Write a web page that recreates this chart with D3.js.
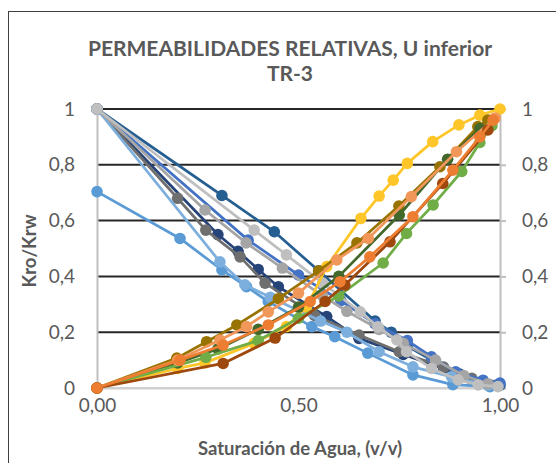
<!DOCTYPE html>
<html>
<head>
<meta charset="utf-8">
<script src="https://cdn.jsdelivr.net/npm/d3@7"></script>
<style>
  html, body { margin: 0; padding: 0; background: #fff; }
  svg { display: block; font-family: "Lato", "Open Sans", sans-serif; }
</style>
</head>
<body>
<svg id="chart" width="556" height="463"></svg>
<script>
// Tick labels
const xTicks = [0, 0.5, 1];
const yTicks = [0, 0.2, 0.4, 0.6, 0.8, 1];

// Kro curves (water saturation / kro)
const kroA_sw = [0, 0.31, 0.44, 0.55, 0.69, 0.73, 0.77, 0.83, 0.90, 0.95, 1.0];
const kroA    = [1, 0.69, 0.56, 0.42, 0.24, 0.20, 0.15, 0.10, 0.05, 0.02, 0.01];
const kroB_sw = [0, 0.30, 0.35, 0.40, 0.45, 0.57, 0.65, 0.76, 0.86, 0.93, 0.99];
const kroB    = [1, 0.55, 0.49, 0.425, 0.363, 0.256, 0.178, 0.12, 0.07, 0.03, 0.01];
const kroC_sw = [0, 0.20, 0.27, 0.355, 0.417, 0.54, 0.65, 0.75, 0.86, 0.93, 0.98];
const kroC    = [1, 0.68, 0.566, 0.47, 0.376, 0.26, 0.19, 0.13, 0.075, 0.035, 0.01];
const kroD_sw = [0, 0.375, 0.50, 0.605, 0.69, 0.77, 0.83, 0.89, 0.958, 1.0];
const kroD    = [1, 0.53, 0.405, 0.313, 0.23, 0.17, 0.112, 0.058, 0.028, 0.018];
const kroE_sw = [0, 0.206, 0.31, 0.371, 0.425, 0.533, 0.59, 0.672, 0.784, 0.883, 0.975];
const kroE    = [0.704, 0.536, 0.423, 0.363, 0.31, 0.22, 0.184, 0.125, 0.047, 0.012, 0.005];
const kroF_sw = [0, 0.305, 0.367, 0.43, 0.555, 0.62, 0.70, 0.784, 0.88, 0.97];
const kroF    = [1, 0.452, 0.37, 0.325, 0.24, 0.20, 0.13, 0.076, 0.04, 0.01];
const kroG_sw = [0, 0.268, 0.37, 0.46, 0.56, 0.62, 0.70, 0.76, 0.84, 0.91, 0.97];
const kroG    = [1, 0.638, 0.52, 0.43, 0.33, 0.275, 0.21, 0.16, 0.10, 0.045, 0.015];
const kroH_sw = [0, 0.39, 0.47, 0.56, 0.653, 0.697, 0.744, 0.768, 0.83, 0.896, 0.946, 0.995];
const kroH    = [1, 0.566, 0.477, 0.376, 0.273, 0.219, 0.172, 0.13, 0.07, 0.029, 0.011, 0.005];

// Krw curves
const krwA_sw = [0, 0.2, 0.268, 0.39, 0.47, 0.52, 0.57, 0.655, 0.70, 0.735, 0.77, 0.833, 0.898, 0.95, 1.0];
const krwA    = [0, 0.07, 0.09, 0.16, 0.22, 0.29, 0.435, 0.608, 0.688, 0.745, 0.805, 0.883, 0.943, 0.978, 1.0];
const krwB_sw = [0, 0.198, 0.272, 0.347, 0.45, 0.55, 0.645, 0.749, 0.851, 0.945, 0.97];
const krwB    = [0, 0.107, 0.166, 0.226, 0.32, 0.42, 0.52, 0.652, 0.793, 0.937, 0.96];
const krwC_sw = [0, 0.2, 0.3, 0.4, 0.5, 0.6, 0.75, 0.87, 0.95];
const krwC    = [0, 0.09, 0.14, 0.21, 0.29, 0.40, 0.62, 0.82, 0.93];
const krwD_sw = [0, 0.27, 0.4, 0.5, 0.6, 0.71, 0.768, 0.834, 0.905, 0.95, 0.98];
const krwD    = [0, 0.11, 0.17, 0.25, 0.33, 0.448, 0.554, 0.656, 0.776, 0.88, 0.94];
const krwE_sw = [0, 0.2, 0.305, 0.371, 0.425, 0.50, 0.595, 0.673, 0.78, 0.892, 0.988];
const krwE    = [0, 0.10, 0.172, 0.22, 0.273, 0.34, 0.459, 0.536, 0.686, 0.847, 0.968];
const krwF_sw = [0, 0.313, 0.442, 0.566, 0.615, 0.727, 0.858, 0.97];
const krwF    = [0, 0.088, 0.179, 0.31, 0.369, 0.524, 0.733, 0.925];
const krwG_sw = [0, 0.206, 0.313, 0.425, 0.529, 0.603, 0.677, 0.784, 0.883, 0.95, 0.983];
const krwG    = [0, 0.10, 0.154, 0.226, 0.31, 0.381, 0.47, 0.614, 0.781, 0.90, 0.96];

// series in drawing order, with their colours
const series = [
    { sw: kroA_sw, k: kroA, color: "#255E91" },
    { sw: kroB_sw, k: kroB, color: "#264478" },
    { sw: kroC_sw, k: kroC, color: "#6F6F6F" },
    { sw: kroD_sw, k: kroD, color: "#4472C4" },
    { sw: kroE_sw, k: kroE, color: "#5B9BD5" },
    { sw: kroF_sw, k: kroF, color: "#7CAFDD" },
    { sw: kroG_sw, k: kroG, color: "#A5A5A5" },
    { sw: kroH_sw, k: kroH, color: "#BFBFBF" },
    { sw: krwA_sw, k: krwA, color: "#FFC629" },
    { sw: krwB_sw, k: krwB, color: "#997300" },
    { sw: krwC_sw, k: krwC, color: "#43682B" },
    { sw: krwD_sw, k: krwD, color: "#70AD47" },
    { sw: krwE_sw, k: krwE, color: "#F1975A" },
    { sw: krwF_sw, k: krwF, color: "#9E480E" },
    { sw: krwG_sw, k: krwG, color: "#ED7D31" }
];

const svg = d3.select("#chart");
const grey = "#595959";

// Chart frame (clipped by the window on the right and bottom)
svg.append("rect")
    .attr("x", 8.5).attr("y", 11.5)
    .attr("width", 600).attr("height", 500)
    .attr("fill", "none")
    .attr("stroke", "#404040")
    .attr("stroke-width", 1);

const x = d3.scaleLinear().domain([0, 1]).range([97, 500]);
const y = d3.scaleLinear().domain([0, 1]).range([388, 109]);

// Gridlines
svg.append("g")
    .selectAll("line")
    .data(yTicks)
    .enter().append("line")
    .attr("x1", x(0)).attr("x2", x(1))
    .attr("y1", d => y(d)).attr("y2", d => y(d))
    .attr("stroke", d => d === 0 ? "#D0D0D0" : "#262626")
    .attr("stroke-width", 2);

// Left axis
const fmtY = d => d3.format(".1f")(d).replace(".", ",").replace(/^1,0$/, "1").replace(/^0,0$/, "0");
const leftAxis = svg.append("g")
    .attr("transform", `translate(${x(0)},0)`)
    .call(d3.axisLeft(y).tickValues(yTicks).tickSize(0).tickPadding(22).tickFormat(fmtY));

// Right axis
const rightAxis = svg.append("g")
    .attr("transform", `translate(${x(1)},0)`)
    .call(d3.axisRight(y).tickValues(yTicks).tickSize(6).tickPadding(16).tickFormat(fmtY));

// Bottom axis
const bottomAxis = svg.append("g")
    .attr("transform", `translate(0,${y(0)})`)
    .call(d3.axisBottom(x).tickValues(xTicks).tickSize(0).tickPadding(11)
        .tickFormat(d => d3.format(".2f")(d).replace(".", ",")));

[leftAxis, rightAxis, bottomAxis].forEach(a => {
    a.select(".domain").attr("stroke", "#BFBFBF").attr("stroke-width", 2);
    a.selectAll(".tick line").attr("stroke", "#BFBFBF").attr("stroke-width", 2);
    a.selectAll("text")
        .attr("fill", grey)
        .style("font-size", "19px")
        .style("font-family", "Lato, sans-serif");
});
bottomAxis.select(".domain").attr("stroke", "#D0D0D0");

// Series lines and markers
const line = d3.line()
    .x(d => x(d[0]))
    .y(d => y(d[1]));

series.forEach(s => {
    const pts = s.sw.map((v, i) => [v, s.k[i]]);
    const g = svg.append("g");
    g.append("path")
        .datum(pts)
        .attr("d", line)
        .attr("fill", "none")
        .attr("stroke", s.color)
        .attr("stroke-width", 2.75)
        .attr("stroke-linejoin", "round");
    g.selectAll("circle")
        .data(pts)
        .enter().append("circle")
        .attr("cx", d => x(d[0]))
        .attr("cy", d => y(d[1]))
        .attr("r", 5.8)
        .attr("fill", s.color);
});

// Title
const title = svg.append("text")
    .attr("text-anchor", "middle")
    .attr("fill", grey)
    .style("font-size", "21px")
    .style("font-weight", "bold");
title.append("tspan").attr("x", 290).attr("y", 56).text("PERMEABILIDADES RELATIVAS, U inferior");
title.append("tspan").attr("x", 290).attr("y", 81).text("TR-3");

// Axis titles
svg.append("text")
    .attr("x", 300).attr("y", 455)
    .attr("text-anchor", "middle")
    .attr("fill", grey)
    .style("font-size", "18.5px")
    .style("font-weight", "bold")
    .text("Saturación de Agua, (v/v)");

svg.append("text")
    .attr("transform", "translate(36,251) rotate(-90)")
    .attr("text-anchor", "middle")
    .attr("fill", grey)
    .style("font-size", "18.5px")
    .style("font-weight", "bold")
    .text("Kro/Krw");
</script>
</body>
</html>
